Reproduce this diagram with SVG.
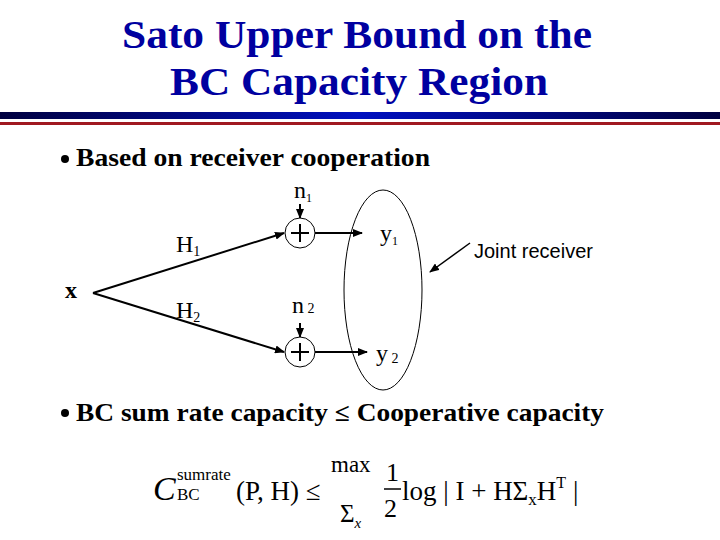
<svg xmlns="http://www.w3.org/2000/svg" width="720" height="540" viewBox="0 0 720 540">
<defs>
<linearGradient id="bar" x1="0" x2="1"><stop offset="0" stop-color="#000040"/><stop offset="0.5" stop-color="#0010c0"/><stop offset="1" stop-color="#000040"/></linearGradient>
<marker id="ah" markerWidth="10" markerHeight="8" refX="9" refY="4" orient="auto" markerUnits="userSpaceOnUse"><path d="M0,0 L10,4 L0,8 Z" fill="#000"/></marker>
<style>
.t{font-family:"Liberation Serif",serif;fill:#000}
.title{font-family:"Liberation Serif",serif;font-weight:bold;fill:#0000a0;font-size:40px}
.b{font-family:"Liberation Serif",serif;font-weight:bold;font-size:25px;fill:#000}
.ln{stroke:#000;stroke-width:2;fill:none;marker-end:url(#ah)}
.sum{fill:#fff;stroke:#000;stroke-width:1}
</style>
</defs>
<rect width="720" height="540" fill="#fff"/>
<text class="title" x="122" y="48" textLength="470" lengthAdjust="spacingAndGlyphs">Sato Upper Bound on the</text>
<text class="title" x="170" y="95" textLength="378" lengthAdjust="spacingAndGlyphs">BC Capacity Region</text>
<rect x="0" y="112" width="720" height="7" fill="url(#bar)"/>
<rect x="0" y="122" width="720" height="3" fill="#a01820"/>
<circle cx="65" cy="159" r="4" fill="#000"/>
<text class="b" x="76" y="166" textLength="354" lengthAdjust="spacingAndGlyphs">Based on receiver cooperation</text>
<g id="connectors">
<line class="ln" x1="93" y1="293" x2="284" y2="233"/>
<line class="ln" x1="93" y1="293" x2="284" y2="352"/>
<line class="ln" x1="300" y1="204" x2="300" y2="218"/>
<line class="ln" x1="300" y1="323" x2="300" y2="337"/>
<line class="ln" x1="315" y1="233" x2="362" y2="233"/>
<line class="ln" x1="315" y1="352" x2="367" y2="352"/>
<line x1="470" y1="243" x2="430" y2="272" style="stroke:#000;stroke-width:1.5;marker-end:url(#ah)"/>
</g>
<g id="x"><text class="t" x="65" y="298" font-size="24" font-weight="bold">x</text></g>
<text class="t" x="176" y="252" font-size="24">H<tspan font-size="14" dy="4">1</tspan></text>
<text class="t" x="176" y="318" font-size="24">H<tspan font-size="14" dy="4">2</tspan></text>
<g id="sum1"><circle class="sum" cx="300" cy="233" r="15"/><path d="M291,233 H309 M300,224 V242" stroke="#000" stroke-width="2"/></g>
<g id="sum2"><circle class="sum" cx="300" cy="352" r="15"/><path d="M291,352 H309 M300,343 V361" stroke="#000" stroke-width="2"/></g>
<text class="t" x="294" y="198" font-size="24">n<tspan font-size="12" dy="4">1</tspan></text>
<text class="t" x="292" y="313" font-size="24">n<tspan font-size="14" dy="0"> 2</tspan></text>
<g id="receiver"><ellipse cx="383" cy="290" rx="39" ry="100" fill="none" stroke="#000" stroke-width="1"/>
<text class="t" x="380" y="241" font-size="24">y<tspan font-size="12" dy="4">1</tspan></text>
<text class="t" x="376" y="361" font-size="24">y<tspan font-size="14" dy="2"> 2</tspan></text></g>
<text x="474" y="258" font-family="Liberation Sans, sans-serif" font-size="20" fill="#000">Joint receiver</text>
<circle cx="65" cy="413" r="4" fill="#000"/>
<text class="b" x="76" y="421" textLength="528" lengthAdjust="spacingAndGlyphs">BC sum rate capacity ≤ Cooperative capacity</text>
<g id="formula">
<text x="153" y="500" font-size="34" font-style="italic" class="t">C</text>
<text x="177" y="480" font-size="17" class="t">sumrate</text>
<text x="177" y="500" font-size="17" class="t">BC</text>
<text x="236" y="500" font-size="27" class="t">(P, H) ≤</text>
<text x="331" y="472" font-size="23" class="t">max</text>
<text x="340" y="522" font-size="25" class="t">Σ<tspan font-size="15" font-style="italic" dy="6">x</tspan></text>
<text x="386" y="481" font-size="26" class="t">1</text>
<line x1="384" y1="489" x2="401" y2="489" stroke="#000" stroke-width="1.5"/>
<text x="384" y="517" font-size="26" class="t">2</text>
<text x="402" y="500" font-size="27" class="t">log | I + HΣ<tspan font-size="17" dy="5">x</tspan><tspan dy="-5">H</tspan><tspan font-size="16" dy="-12">T</tspan><tspan dy="12"> |</tspan></text>
</g>
</svg>
